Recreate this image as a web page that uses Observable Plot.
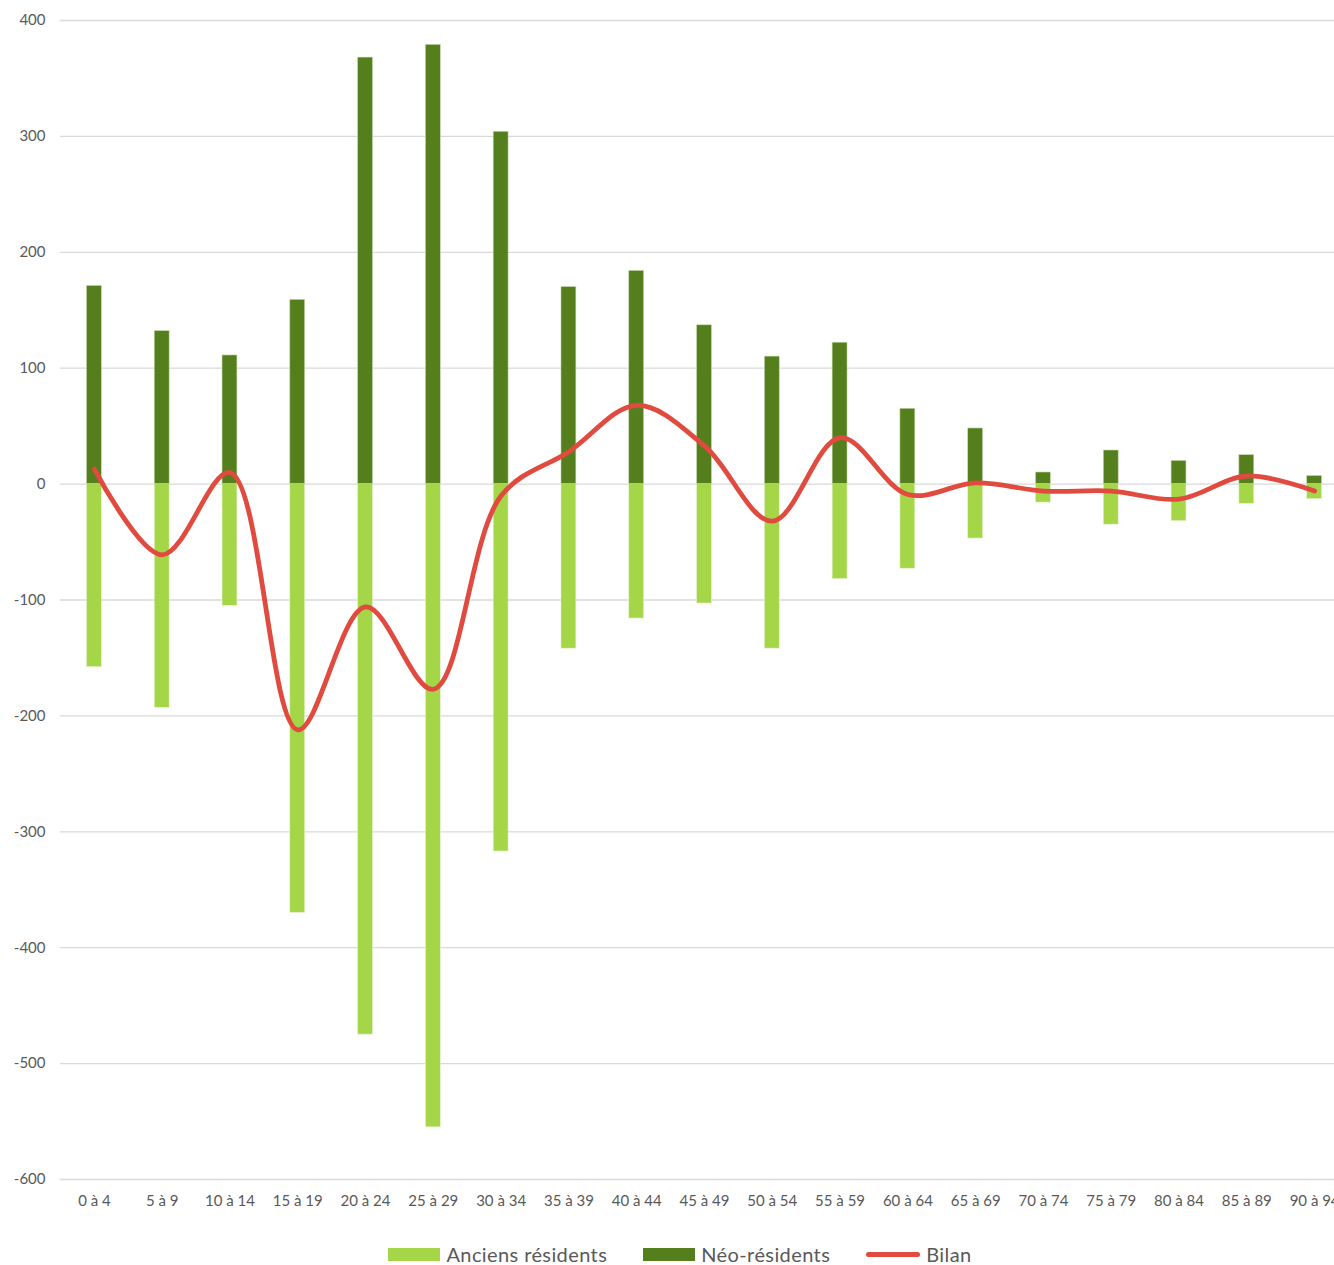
<!DOCTYPE html>
<html><head><meta charset="utf-8">
<script src="https://cdn.jsdelivr.net/npm/d3@7"></script>
<script src="https://cdn.jsdelivr.net/npm/@observablehq/plot@0.6"></script>
<style>
html,body{margin:0;padding:0;background:#fff;overflow:hidden;width:1334px;}
#chart{width:1334px;overflow:hidden;height:1226px;}
#chart svg{max-width:none !important;}
.legend{display:flex;justify-content:center;align-items:center;gap:36px;font-family:Lato,"Noto Sans",sans-serif;font-size:20px;line-height:24px;letter-spacing:0.4px;color:#595959;height:28px;margin-left:26px;margin-top:14px;}
.legend span{display:inline-flex;align-items:center;gap:6px;}
.sw{display:inline-block;width:52px;height:13px;}
.ln{display:inline-block;width:54px;height:5px;border-radius:3px;}
</style></head>
<body>
<div id="chart"></div>
<div class="legend">
<span><i class="sw" style="background:#a4d648"></i>Anciens résidents</span>
<span><i class="sw" style="background:#557f1c"></i>Néo-résidents</span>
<span><i class="ln" style="background:#e04a3f"></i>Bilan</span>
</div>
<script>
const categories = ["0 à 4","5 à 9","10 à 14","15 à 19","20 à 24","25 à 29","30 à 34","35 à 39","40 à 44","45 à 49","50 à 54","55 à 59","60 à 64","65 à 69","70 à 74","75 à 79","80 à 84","85 à 89","90 à 94"];
const anciens = [-158,-193,-105,-370,-475,-555,-317,-142,-116,-103,-142,-82,-73,-47,-16,-35,-32,-17,-13];
const neo = [171,132,111,159,368,379,304,170,184,137,110,122,65,48,10,29,20,25,7];
const bilan = [13,-61,10,-212,-106,-177,-10,28,68,33,-32,40,-9,1,-6,-6,-13,7,-6];
const yTicks = [400,300,200,100,0,-100,-200,-300,-400,-500,-600];

const rows = categories.map((c,i)=>({cat:c, anciens:anciens[i], neo:neo[i], bilan:bilan[i]}));

const chart = Plot.plot({
  width: 1348,
  height: 1226,
  marginLeft: 60,
  marginRight: 0,
  marginTop: 20,
  marginBottom: 47,
  style: {fontFamily: "Lato, 'Noto Sans', sans-serif", fontSize: "15px", color: "#595959", overflow: "visible"},
  x: {type: "band", domain: categories, paddingInner: 0.78, paddingOuter: 0.39, align: 0.5, round: false, label: null, tickSize: 0, tickPadding: 16},
  y: {domain: [-600, 400], ticks: yTicks, label: null, tickSize: 0, tickPadding: 15, tickFormat: d => String(d)},
  marks: [
    Plot.gridY(yTicks, {stroke: "#d9d9d9", strokeOpacity: 1, strokeWidth: 1.3}),
    Plot.barY(rows, {x: "cat", y1: 0, y2: "anciens", fill: "#a4d648", stroke: "#e8f4d4", strokeWidth: 0.6}),
    Plot.barY(rows, {x: "cat", y1: 0, y2: "neo", fill: "#557f1c", stroke: "#c9d9b3", strokeWidth: 0.6}),
    Plot.line(rows, {x: "cat", y: "bilan", stroke: "#e04a3f", strokeWidth: 4.8, curve: "catmull-rom", strokeLinecap: "round"})
  ]
});
document.getElementById("chart").appendChild(chart);
</script>
</body></html>
